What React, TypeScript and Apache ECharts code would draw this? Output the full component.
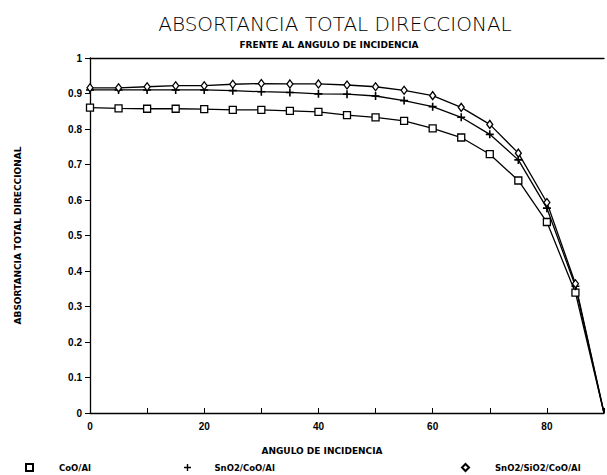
import React, { useEffect, useRef } from "react";
import * as echarts from "echarts";

const angles = [0, 5, 10, 15, 20, 25, 30, 35, 40, 45, 50, 55, 60, 65, 70, 75, 80, 85, 90];
const coo = [0.86, 0.858, 0.857, 0.857, 0.856, 0.854, 0.854, 0.851, 0.848, 0.839, 0.833, 0.823, 0.802, 0.776, 0.729, 0.655, 0.538, 0.339, 0];
const sno2Coo = [0.91, 0.91, 0.91, 0.91, 0.91, 0.908, 0.905, 0.903, 0.899, 0.898, 0.893, 0.88, 0.863, 0.833, 0.785, 0.713, 0.577, 0.357, 0];
const sno2Sio2Coo = [0.916, 0.916, 0.919, 0.922, 0.922, 0.926, 0.928, 0.927, 0.927, 0.924, 0.919, 0.909, 0.894, 0.861, 0.813, 0.732, 0.593, 0.364, 0];
const names = ["CoO/Al", "SnO2/CoO/Al", "SnO2/SiO2/CoO/Al"];
const xTicks = [0, 20, 40, 60, 80];

const PLUS = "path://M4,0h2v4h4v2h-4v4h-2v-4h-4v-2h4z";

function mk(vals: number[]) {
  return angles.map((a, i) =>
    i === angles.length - 1 ? { value: [a, vals[i]], symbol: "none" } : { value: [a, vals[i]] }
  );
}

export default function App() {
  const ref = useRef<HTMLDivElement>(null);
  useEffect(() => {
    if (!ref.current) return;
    const chart = echarts.init(ref.current, null, { renderer: "svg" });
    const font = "Liberation Sans";
    const dv = "DejaVu Sans";
    const lineStyle = { color: "#000", width: 1.3 };
    const base = {
      type: "line",
      lineStyle,
      symbolSize: 7,
      itemStyle: { color: "#fff", borderColor: "#000", borderWidth: 1.3 },
      emphasis: { disabled: true },
    };
    const legendText = { fontFamily: dv, fontSize: 8.5, fontWeight: "bold", color: "#000" };
    const legendCommon = {
      top: 458,
      itemHeight: 7,
      selectedMode: false,
    };
    chart.setOption({
      animation: false,
      backgroundColor: "#fff",
      title: [
        {
          text: "ABSORTANCIA TOTAL DIRECCIONAL",
          left: 330,
          top: 9,
          textAlign: "center",
          textStyle: { fontFamily: dv, fontSize: 20, fontWeight: 300, color: "#000" },
        },
        {
          text: "FRENTE AL ANGULO DE INCIDENCIA",
          left: 329,
          top: 40,
          textAlign: "center",
          padding: 0,
          textStyle: { fontFamily: dv, fontSize: 9, fontWeight: "bold", color: "#000" },
        },
        {
          text: "ANGULO DE INCIDENCIA",
          left: 322,
          top: 446,
          textAlign: "center",
          padding: 0,
          textStyle: { fontFamily: dv, fontSize: 9, fontWeight: "bold", color: "#000" },
        },
      ],
      legend: [
        { ...legendCommon, left: 20, itemWidth: 7, data: [{ name: names[0], icon: "rect" }], textStyle: { ...legendText, padding: [0, 0, 0, 21] } },
        { ...legendCommon, left: 179, itemWidth: 8, data: [{ name: names[1], icon: PLUS }], textStyle: { ...legendText, padding: [0, 0, 0, 18] } },
        { ...legendCommon, left: 456, itemWidth: 7, data: [{ name: names[2], icon: "diamond" }], textStyle: { ...legendText, padding: [0, 0, 0, 21] } },
      ],
      grid: { left: 90, right: 2, top: 58, bottom: 62 },
      xAxis: [
        {
          type: "value",
          min: 0,
          max: 90,
          interval: 10,
          axisLine: { show: true, lineStyle: { color: "#000", width: 1.3 } },
          axisTick: { show: true, inside: true, length: 5, lineStyle: { color: "#000" } },
          axisLabel: {
            fontFamily: font,
            fontSize: 10,
            fontWeight: "bold",
            color: "#000",
            margin: 8,
            formatter: (v: number) => (xTicks.includes(v) ? String(v) : ""),
          },
          splitLine: { show: false },
        },
        {
          type: "value",
          position: "top",
          min: 0,
          max: 90,
          axisLine: { show: true, lineStyle: { color: "#000", width: 1.3 } },
          axisTick: { show: false },
          axisLabel: { show: false },
          splitLine: { show: false },
        },
      ],
      yAxis: {
        type: "value",
        min: 0,
        max: 1,
        interval: 0.1,
        name: "ABSORTANCIA TOTAL DIRECCIONAL",
        nameLocation: "middle",
        nameGap: 68,
        nameRotate: 90,
        nameTextStyle: { fontFamily: dv, fontSize: 9, fontWeight: "bold", color: "#000" },
        axisLine: { show: true, lineStyle: { color: "#000", width: 1.3 } },
        axisTick: { show: true, length: 5, lineStyle: { color: "#000" } },
        axisLabel: { fontFamily: font, fontSize: 10, fontWeight: "bold", color: "#000", margin: 8 },
        splitLine: { show: false },
      },
      series: [
        { ...base, name: names[0], symbol: "rect", data: mk(coo) },
        { ...base, name: names[1], symbol: PLUS, symbolSize: 8, itemStyle: { color: "#000", borderColor: "#000", borderWidth: 0 }, data: mk(sno2Coo) },
        { ...base, name: names[2], symbol: "diamond", symbolSize: [6, 8], data: mk(sno2Sio2Coo) },
      ],
    });
    return () => chart.dispose();
  }, []);
  return <div ref={ref} style={{ width: 607, height: 475, position: "fixed", left: 0, top: 0 }} />;
}
